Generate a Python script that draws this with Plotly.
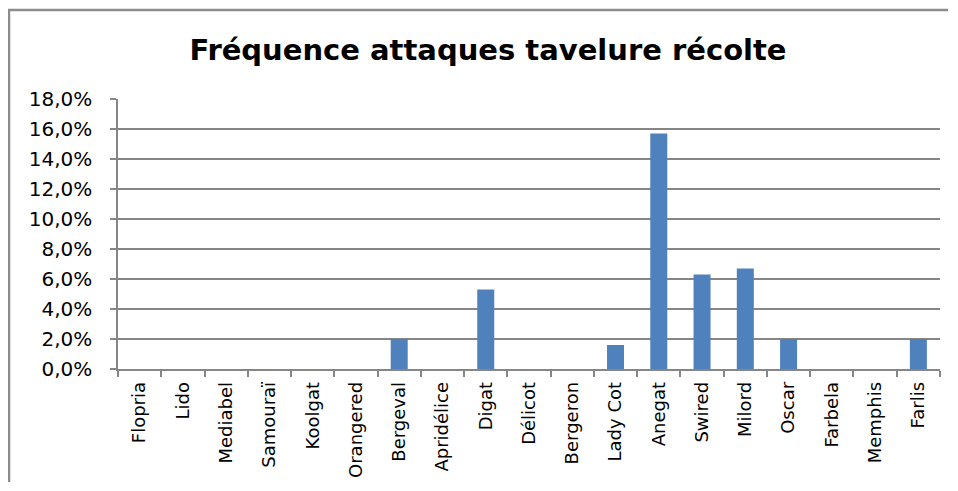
import plotly.graph_objects as go

categories = ["Flopria", "Lido", "Mediabel", "Samouraï", "Koolgat", "Orangered", "Bergeval",
              "Apridélice", "Digat", "Délicot", "Bergeron", "Lady Cot", "Anegat", "Swired",
              "Milord", "Oscar", "Farbela", "Memphis", "Farlis"]
values = [0.0, 0.0, 0.0, 0.0, 0.0, 0.0, 0.020, 0.0, 0.053, 0.0, 0.0, 0.016, 0.157, 0.063,
          0.067, 0.020, 0.0, 0.0, 0.020]
title_text = "Fréquence attaques tavelure récolte"

# page is shown with an 8px body margin, so figure coords = screen coords - 8
W, H = 940, 474
ml, mr, mt, mb = 110, 8, 91, 113
pw, ph = W - ml - mr, H - mt - mb

def px_x(x):
    return (x - ml) / pw

def px_y(y):
    return (H - mb - y) / ph

fig = go.Figure(go.Bar(
    x=categories, y=values,
    marker=dict(color="#4F81BD", line=dict(width=0)),
))

fig.update_layout(
    width=W, height=H,
    margin=dict(l=ml, r=mr, t=mt, b=mb, autoexpand=False),
    paper_bgcolor="white", plot_bgcolor="white",
    bargap=0.607,
    separators=", ",
    showlegend=False,
    font=dict(family="DejaVu Sans", color="#000000"),
    title=dict(text="<b>" + title_text + "</b>", x=480 / W, xref="container",
               y=1 - 42 / H, yref="container",
               yanchor="middle", xanchor="center",
               font=dict(size=29, family="DejaVu Sans", color="#000000")),
    xaxis=dict(
        type="category", tickangle=-90, tickson="boundaries",
        ticks="outside", ticklen=6, tickcolor="#868686", tickwidth=1.5,
        showline=True, linecolor="#868686", linewidth=1.5,
        showgrid=False, tickfont=dict(size=18, family="DejaVu Sans"),
        ticklabelstandoff=4,
    ),
    yaxis=dict(
        range=[0, 0.18], dtick=0.02, tickformat=".1%",
        ticks="outside", ticklen=6, tickcolor="#868686", tickwidth=1.5,
        showline=True, linecolor="#868686", linewidth=1.5,
        showgrid=True, gridcolor="#868686", gridwidth=1.5,
        zeroline=False, tickfont=dict(size=20, family="DejaVu Sans"),
        ticklabelstandoff=14,
    ),
    shapes=[
        dict(type="line", xref="paper", yref="paper",
             x0=px_x(0), x1=px_x(W), y0=px_y(2), y1=px_y(2),
             line=dict(color="#8C8C8C", width=2.5)),
        dict(type="line", xref="paper", yref="paper",
             x0=px_x(1), x1=px_x(1), y0=px_y(2), y1=px_y(H),
             line=dict(color="#8C8C8C", width=2.5)),
    ],
)

fig.write_html("out.html")
